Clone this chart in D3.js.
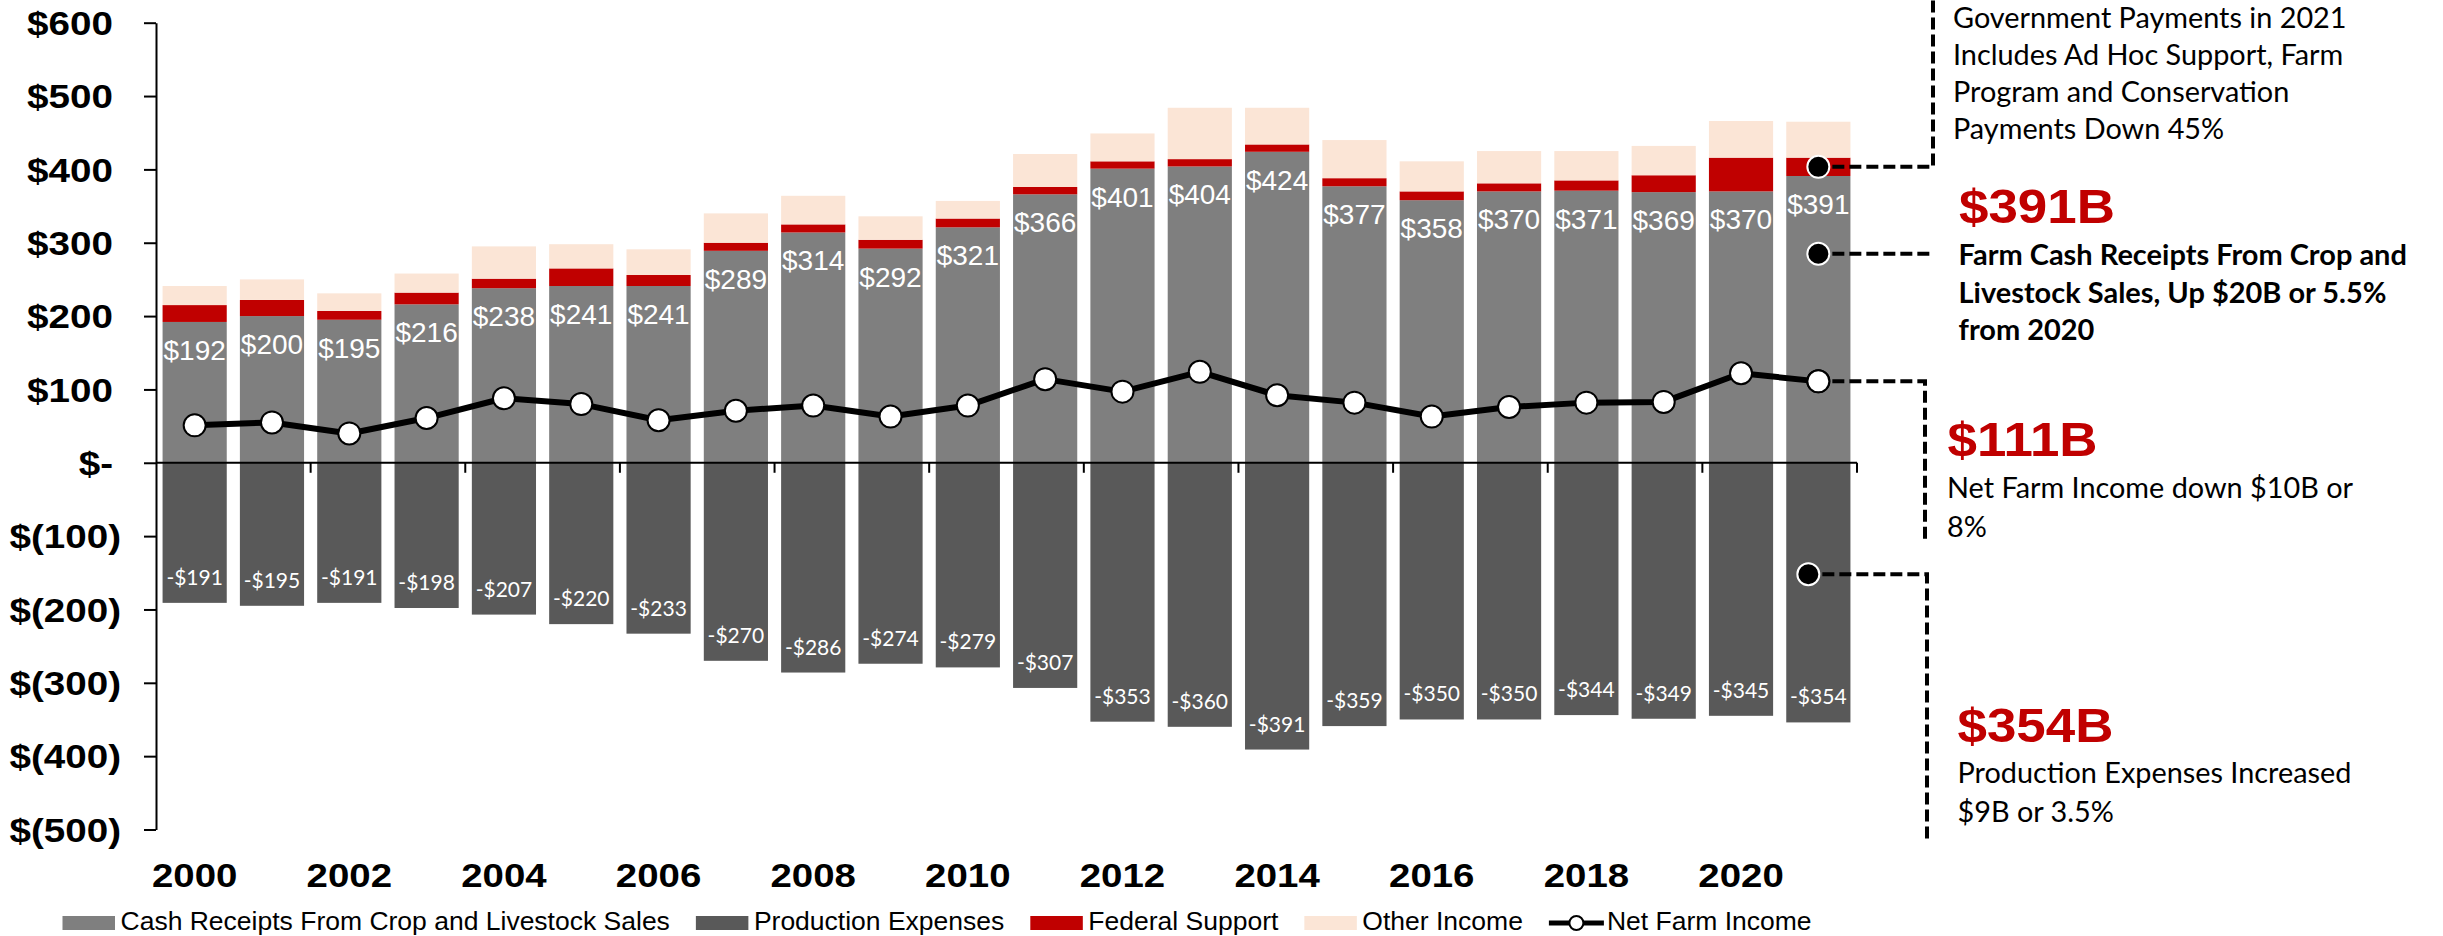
<!DOCTYPE html>
<html>
<head>
<meta charset="utf-8">
<script src="https://cdn.jsdelivr.net/npm/d3@7"></script>
<style>
  html, body { margin: 0; padding: 0; background: #ffffff; }
  svg { display: block; }
</style>
</head>
<body>
<svg id="chart" width="2443" height="936"></svg>
<script>
// ---------------- DATA ----------------
const years = ["2000","2001","2002","2003","2004","2005","2006","2007","2008","2009","2010",
               "2011","2012","2013","2014","2015","2016","2017","2018","2019","2020","2021"];
const cashReceipts = [192,200,195,216,238,241,241,289,314,292,321,366,401,404,424,377,358,370,371,369,370,391];
const productionExpenses = [191,195,191,198,207,220,233,270,286,274,279,307,353,360,391,359,350,350,344,349,345,354];
const federalSupport = [23,22,12,16,13,24,15,11,11,12,12,10,10,10,10,11,12,11,14,23,46,25];
const otherIncome = [26,28,24,26,44,33,35,40,39,32,24,45,38,70,50,52,41,44,40,40,50,49];
const netFarmIncome = [51,55,40,61,88,80,58,71,78,63,78,114,97,124,92,82,63,76,82,83,122,111];
const yTickValues = [-500,-400,-300,-200,-100,0,100,200,300,400,500,600];
const xTickLabels = ["2000","2002","2004","2006","2008","2010","2012","2014","2016","2018","2020"];
const legendLabels = ["Cash Receipts From Crop and Livestock Sales","Production Expenses","Federal Support","Other Income","Net Farm Income"];
const calloutGov = ["Government Payments in 2021","Includes Ad Hoc Support, Farm","Program and Conservation","Payments Down 45%"];
const calloutCashBig = "$391B";
const calloutCash = ["Farm Cash Receipts From Crop and","Livestock Sales, Up $20B or 5.5%","from 2020"];
const calloutNetBig = "$111B";
const calloutNet = ["Net Farm Income down $10B or","8%"];
const calloutExpBig = "$354B";
const calloutExp = ["Production Expenses Increased","$9B or 3.5%"];
// ---------------------------------------

const COL = { cash: "#7F7F7F", exp: "#595959", fed: "#C00000", other: "#FBE5D6", red: "#C00000" };
const ARIAL = "'Liberation Sans', Arial, Helvetica, sans-serif";
const CAL = "Lato, 'Open Sans', sans-serif";

const svg = d3.select("#chart");

const x = d3.scaleBand().domain(years).range([156, 1857]).paddingInner(0.17).paddingOuter(0.085);
const y = d3.scaleLinear().domain([-500, 600]).range([829.5, 22.7]);
const bw = x.bandwidth();
const cx = d => x(d) + bw / 2;

const rows = years.map((yr, i) => ({
  yr, cash: cashReceipts[i], exp: productionExpenses[i], fed: federalSupport[i],
  other: otherIncome[i], net: netFarmIncome[i]
}));

// ---- Bars ----
const gBars = svg.append("g");
gBars.selectAll(".cash").data(rows).join("rect")
  .attr("x", d => x(d.yr)).attr("width", bw)
  .attr("y", d => y(d.cash)).attr("height", d => y(0) - y(d.cash))
  .attr("fill", COL.cash);
gBars.selectAll(".fed").data(rows).join("rect")
  .attr("x", d => x(d.yr)).attr("width", bw)
  .attr("y", d => y(d.cash + d.fed)).attr("height", d => y(d.cash) - y(d.cash + d.fed))
  .attr("fill", COL.fed);
gBars.selectAll(".oth").data(rows).join("rect")
  .attr("x", d => x(d.yr)).attr("width", bw)
  .attr("y", d => y(d.cash + d.fed + d.other)).attr("height", d => y(d.cash + d.fed) - y(d.cash + d.fed + d.other))
  .attr("fill", COL.other);
gBars.selectAll(".exp").data(rows).join("rect")
  .attr("x", d => x(d.yr)).attr("width", bw)
  .attr("y", y(0)).attr("height", d => y(-d.exp) - y(0))
  .attr("fill", COL.exp);

// ---- Bar labels ----
svg.append("g").selectAll("text").data(rows).join("text")
  .attr("x", d => cx(d.yr)).attr("y", d => y(d.cash) + 38)
  .attr("text-anchor", "middle")
  .style("font-family", ARIAL).style("font-size", "28px").style("fill", "#ffffff")
  .text(d => "$" + d.cash);
svg.append("g").selectAll("text").data(rows).join("text")
  .attr("x", d => cx(d.yr)).attr("y", d => y(-d.exp) - 18)
  .attr("text-anchor", "middle")
  .style("font-family", CAL).style("font-size", "21px").style("fill", "#ffffff")
  .text(d => "-$" + d.exp);

// ---- Y axis ----
const fmtY = v => v > 0 ? "$" + v : (v === 0 ? "$-" : "$(" + Math.abs(v) + ")");
const gY = svg.append("g").attr("transform", "translate(156,0)")
  .call(d3.axisLeft(y).tickValues(yTickValues).tickSize(12).tickSizeOuter(0).tickFormat(fmtY));
gY.select(".domain").attr("stroke", "#000").attr("stroke-width", 2);
gY.selectAll(".tick line").attr("stroke", "#000").attr("stroke-width", 2);
gY.selectAll(".tick text")
  .attr("x", null).attr("dy", null)
  .attr("transform", d => `translate(${d < 0 ? -35 : -43},${0.358 * 33}) scale(1.17,1)`)
  .attr("text-anchor", "end")
  .style("font-family", ARIAL).style("font-weight", "bold").style("font-size", "33px").style("fill", "#000");

// ---- X axis ----
const [r0, r1] = x.range();
const gX = svg.append("g");
gX.append("line").attr("x1", r0).attr("x2", r1).attr("y1", y(0)).attr("y2", y(0))
  .attr("stroke", "#000").attr("stroke-width", 2.2);
const tickYears = years.filter((yr, i) => i > 0 && i % 2 === 0);
const tickXs = tickYears.map(yr => x(yr) - x.step() * x.paddingInner() / 2).concat([r1]);
gX.selectAll(".xt").data(tickXs).join("line")
  .attr("x1", d => d).attr("x2", d => d).attr("y1", y(0)).attr("y2", y(0) + 10)
  .attr("stroke", "#000").attr("stroke-width", 2);
gX.selectAll(".xl").data(xTickLabels).join("text")
  .attr("transform", d => `translate(${cx(d)},887) scale(1.13,1)`)
  .attr("text-anchor", "middle")
  .style("font-family", ARIAL).style("font-weight", "bold").style("font-size", "34px").style("fill", "#000")
  .text(d => d);

// ---- Net farm income line ----
const line = d3.line().x(d => cx(d.yr)).y(d => y(d.net));
svg.append("path").datum(rows).attr("d", line)
  .attr("fill", "none").attr("stroke", "#000").attr("stroke-width", 6).attr("stroke-linejoin", "round");
svg.append("g").selectAll("circle").data(rows).join("circle")
  .attr("cx", d => cx(d.yr)).attr("cy", d => y(d.net)).attr("r", 11)
  .attr("fill", "#fff").attr("stroke", "#000").attr("stroke-width", 2);

// ---- Legend ----
const gL = svg.append("g");
let lx = 62.5;
const legY = 930;
const legendKinds = ["cash", "exp", "fed", "other", "line"];
legendLabels.forEach((lab, i) => {
  const kind = legendKinds[i];
  if (kind === "line") {
    gL.append("line").attr("x1", lx).attr("x2", lx + 55).attr("y1", legY - 7).attr("y2", legY - 7)
      .attr("stroke", "#000").attr("stroke-width", 5);
    gL.append("circle").attr("cx", lx + 27.5).attr("cy", legY - 7).attr("r", 7)
      .attr("fill", "#fff").attr("stroke", "#000").attr("stroke-width", 2);
  } else {
    gL.append("rect").attr("x", lx).attr("y", legY - 14).attr("width", 52.5).attr("height", 14)
      .attr("fill", COL[kind]);
  }
  const t = gL.append("text").attr("x", lx + 58).attr("y", legY)
    .style("font-family", ARIAL).style("font-size", "26.5px").style("fill", "#000").text(lab);
  lx = lx + 58 + t.node().getComputedTextLength() + 26;
});

// ---- Callouts ----
const last = rows[rows.length - 1];
const ax = cx(last.yr);
const gA = svg.append("g");
const dash = p => gA.append("path").attr("d", p).attr("fill", "none").attr("stroke", "#000")
  .attr("stroke-width", 4).attr("stroke-dasharray", "12,5");
const yGov = y(last.cash + last.fed / 2);
const yCash = y(285);
const yNet = y(last.net);
const yExp = y(-152);
dash(`M${ax + 14},${yGov}H1933V0`);
dash(`M${ax + 14},${yCash}H1933`);
dash(`M${ax + 14},${yNet}H1925V540`);
dash(`M${ax + 4},${yExp}H1927V842`);
[[ax, yGov], [ax, yCash], [ax - 10, yExp]].forEach(([xx, yy]) => {
  gA.append("circle").attr("cx", xx).attr("cy", yy).attr("r", 11)
    .attr("fill", "#000").attr("stroke", "#fff").attr("stroke-width", 2);
});
// redraw the 2021 net income marker above the dashed line
gA.append("circle").attr("cx", ax).attr("cy", yNet).attr("r", 11)
  .attr("fill", "#fff").attr("stroke", "#000").attr("stroke-width", 2);

function textLines(lines, x0, y0, lh, weight, sx) {
  lines.forEach((s, i) => {
    gA.append("text").attr("transform", `translate(${x0},${y0 + i * lh}) scale(${sx},1)`)
      .style("font-family", CAL).style("font-weight", weight).style("font-size", "28px").style("fill", "#000")
      .text(s);
  });
}
function bigRed(s, x0, y0) {
  gA.append("text").attr("transform", `translate(${x0},${y0}) scale(1.08,1)`)
    .style("font-family", ARIAL).style("font-weight", "bold").style("font-size", "49px").style("fill", COL.red)
    .text(s);
}
textLines(calloutGov, 1953, 28, 37, "normal", 1.03);
bigRed(calloutCashBig, 1959, 223);
textLines(calloutCash, 1958.5, 265, 37.7, "bold", 1.035);
bigRed(calloutNetBig, 1947.5, 456);
textLines(calloutNet, 1947, 498.3, 38.4, "normal", 1.03);
bigRed(calloutExpBig, 1957.5, 742.3);
textLines(calloutExp, 1957.5, 783.3, 38.4, "normal", 1.03);
</script>
</body>
</html>
